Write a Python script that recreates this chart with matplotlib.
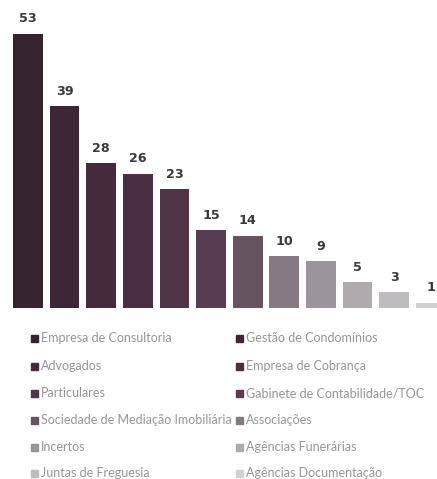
import matplotlib
matplotlib.use("Agg")
import matplotlib.pyplot as plt
from matplotlib.patches import Rectangle

categories = ["Empresa de Consultoria", "Gestão de Condomínios", "Advogados",
              "Empresa de Cobrança", "Particulares", "Gabinete de Contabilidade/TOC",
              "Sociedade de Mediação Imobiliária", "Associações", "Incertos",
              "Agências Funerárias", "Juntas de Freguesia", "Agências Documentação"]
values = [53, 39, 28, 26, 23, 15, 14, 10, 9, 5, 3, 1]
colors = ["#35232f", "#3d2736", "#442a3b", "#4a2f42", "#503546", "#583d50",
          "#665561", "#857a81", "#9b949a", "#aeaaae", "#bfbcbf", "#d2d0d2"]

W, H = 437, 479
fig = plt.figure(figsize=(W / 100, H / 100), dpi=100)
fig.patch.set_facecolor("white")

# bar area: baseline at y=308px, 53 reaches y=34px
ax = fig.add_axes([0, 1 - 308 / H, 1, 308 / H])
x = list(range(len(values)))
ax.bar(x, values, width=0.81, color=colors)
ax.set_xlim(-0.765, 11.17)
ax.set_ylim(0, 308 / 5.17)
ax.axis("off")
for xi, v in zip(x, values):
    ax.annotate(str(v), (xi, v), xytext=(0, 10.8), textcoords="offset points",
                ha="center", va="center", fontsize=9.2, fontweight="heavy",
                color="#3a3a3a", family="DejaVu Sans")

# legend, two columns, row-major
col_x = [31, 236]
row_y = [338, 366, 393, 420, 447, 473]
for i, (name, col) in enumerate(zip(categories, colors)):
    cx = col_x[i % 2]
    cy = row_y[i // 2]
    fig.patches.append(Rectangle((cx / W, 1 - (cy + 3.5) / H), 7 / W, 7 / H,
                                 transform=fig.transFigure, color=col))
    fig.text((cx + 10) / W, 1 - cy / H, name, ha="left", va="center",
             fontsize=9.0, color="#959595", family="Lato")

fig.savefig("out.png", dpi=100)
